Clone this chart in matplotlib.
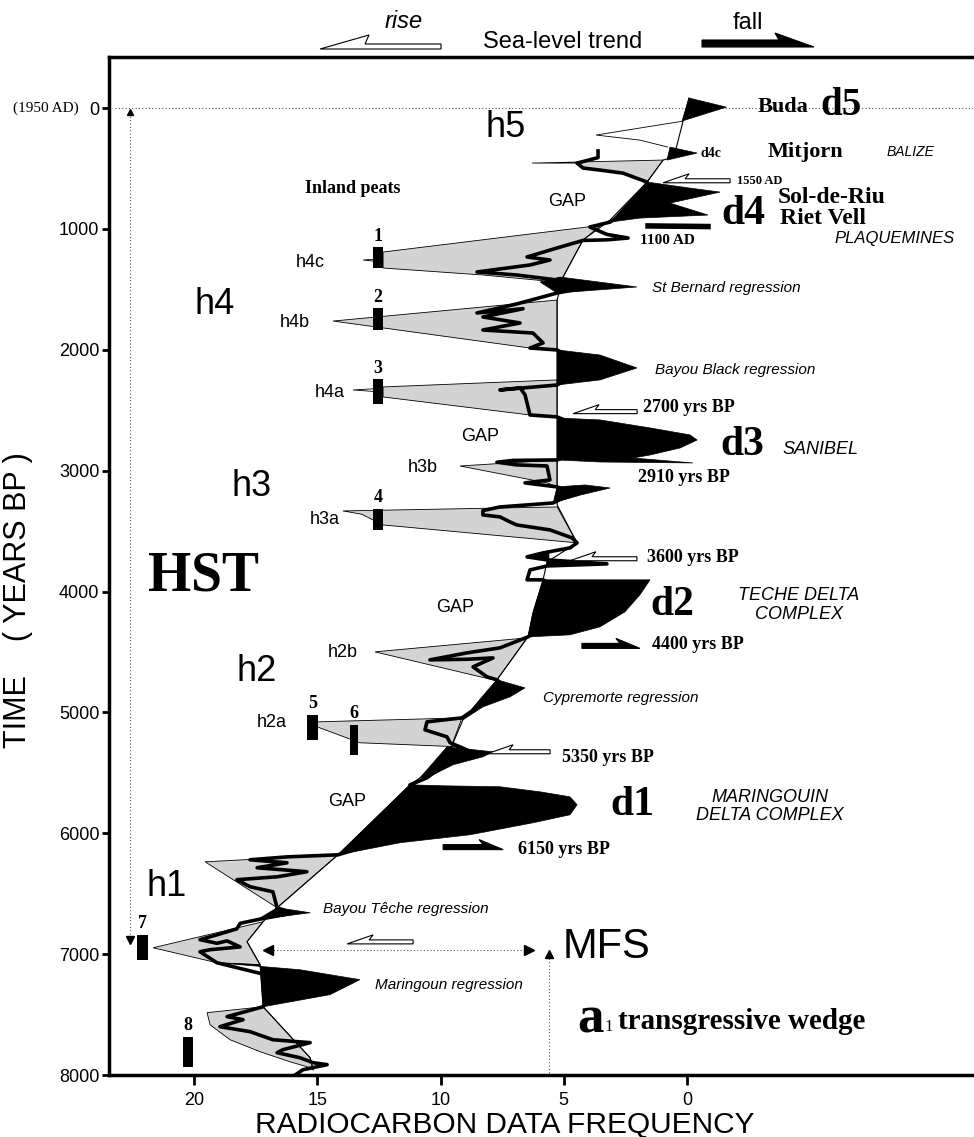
import matplotlib
matplotlib.use("Agg")
import matplotlib.pyplot as plt
import matplotlib.transforms as mtransforms
from matplotlib.patches import Polygon

plt.rcParams["font.family"] = "Liberation Sans"

# ---- data: radiocarbon frequency (x) vs age in yrs BP (y) ----
trend_f = [-0.08, 0.16, 0.53, 0.97, 1.62, 3.12, 4.22, 5.03, 5.27, 5.27, 4.46, 5.68, 5.84, 6.25, 6.45,
           7.71, 9.09, 9.61, 10.83, 11.24, 14.16, 16.63, 17.2, 17.85, 17.32, 17.2, 15.29, 15.17]
trend_t = [-83, 108, 405, 430, 612, 926, 1092, 1398, 1588, 3283, 3597, 3755, 3903, 4176, 4375,
           4730, 5061, 5309, 5541, 5599, 6178, 6616, 6732, 6897, 7087, 7435, 7857, 7956]

curve_f = [3.61, 3.61, 4.46, 4.22, 3.53, 2.6, 1.62, 2.0, 3.12, 3.94, 3.25, 2.39, 3.25, 4.22, 5.15,
           6.49, 5.56, 6.37, 8.52, 6.9, 5.27, 4.0, 5.27, 6.9, 8.52, 6.65, 8.28, 6.77, 8.28, 6.25,
           5.84, 6.37, 5.27, 4.0, 5.27, 7.59, 6.77, 6.57, 6.49, 6.37, 5.27, 3.0, 5.27, 7.06, 7.71,
           6.9, 5.68, 5.56, 6.57, 5.27, 4.6, 5.43, 6.49, 7.59, 8.28, 8.28, 7.59, 7.18, 6.9, 5.56,
           4.66, 4.46, 4.75, 5.84, 6.49, 5.68, 3.25, 5.68, 6.37, 6.49, 5.84, 4.0, 6.45, 7.59, 8.92,
           10.43, 8.92, 7.87, 8.68, 8.4, 8.11, 7.71, 7.3, 8.45, 9.13, 10.55, 10.63, 9.74, 9.61, 9.21,
           8.6, 9.9, 10.55, 11.24, 8.0, 14.16, 16.23, 17.73, 16.23, 17.44, 15.42, 16.63, 18.26, 17.73,
           16.8, 16.63, 16.0, 17.44, 18.13, 18.26, 19.07, 19.76, 19.07, 18.66, 18.13, 19.35, 19.76,
           19.07, 16.5, 17.2, 18.66, 18.01, 18.95, 17.73, 16.8, 15.29, 16.39, 16.63, 15.7, 15.17,
           14.6, 15.58, 15.9]
curve_t = [355, 410, 455, 496, 513, 538, 612, 800, 943, 984, 1045, 1075, 1090, 1095, 1150,
           1232, 1257, 1298, 1356, 1381, 1422, 1480, 1530, 1620, 1695, 1660, 1728, 1778, 1836, 1861,
           1943, 1985, 2001, 2150, 2291, 2332, 2315, 2373, 2440, 2539, 2555, 2750, 2911, 2915, 2930,
           2952, 2961, 3076, 3101, 3134, 3180, 3267, 3283, 3300, 3330, 3366, 3382, 3424, 3449, 3490,
           3556, 3597, 3639, 3680, 3713, 3738, 3771, 3788, 3821, 3903, 3903, 4100, 4375, 4466, 4507,
           4565, 4560, 4549, 4623, 4664, 4706, 4730, 4800, 4950, 5045, 5078, 5144, 5202, 5251, 5285,
           5340, 5440, 5541, 5599, 5800, 6178, 6195, 6219, 6244, 6285, 6318, 6360, 6384, 6442,
           6484, 6616, 6660, 6715, 6745, 6790, 6840, 6880, 6910, 6890, 6940, 6963, 6980,
           7071, 7200, 7435, 7517, 7542, 7600, 7641, 7708, 7732, 7790, 7815, 7857, 7898,
           7914, 7956, 8000]

# inland peat wedges (grey)
peat_1550 = [(6.29, 455), (0.97, 430), (1.62, 612), (2.6, 538), (3.53, 513), (4.22, 496), (4.46, 455)]
peat_h4c = [(12.33, 1191), (3.5, 970), (4.22, 1092), (5.03, 1398), (5.27, 1439), (8.28, 1381), (12.33, 1323)]
peat_h4b = [(14.36, 1762), (5.27, 1588), (5.27, 2001), (6.37, 1985)]
peat_h4a = [(12.33, 2307), (5.27, 2249), (5.27, 2555), (6.37, 2539), (12.33, 2390)]
peat_h3b = [(9.21, 2961), (5.27, 2911), (5.27, 3134), (5.68, 3101)]
peat_h3a = [(13.96, 3333), (5.27, 3300), (4.46, 3597), (12.33, 3449), (13.2, 3360)]
peat_h2b = [(12.66, 4499), (6.49, 4383), (7.71, 4730), (7.87, 4730)]
peat_h2a = [(15.01, 5078), (9.13, 5045), (9.61, 5309), (9.21, 5285), (13.27, 5251), (15.01, 5119)]
peat_h1 = [(19.55, 6236), (14.16, 6178), (16.63, 6616)]
peat_7 = [(21.66, 6947), (17.2, 6732), (17.85, 6897), (17.32, 7087), (19.07, 7071)]
peat_8 = [(19.47, 7484), (17.2, 7435), (15.29, 7857), (15.17, 7956), (15.42, 7931), (16.11, 7890),
          (17.32, 7807), (18.54, 7708), (19.35, 7584)]

# open outlines
open_h5 = [(0.16, 108), (3.69, 223), (1.91, 265), (0.77, 323)]
open_tri1 = [(12.33, 1245), (13.14, 1257), (12.33, 1275)]
open_tri3 = [(12.33, 2318), (13.55, 2332), (12.33, 2350)]

# delta lobes / regressions (black)
delta_d5 = [(-0.08, -83), (-1.6, -8), (0.2, 107)]
delta_d4c = [(0.69, 323), (-0.41, 372), (0.81, 430)]
delta_d4 = [(1.62, 612), (-0.12, 662), (-1.34, 695), (0.69, 786), (-0.85, 885), (1.91, 910), (3.12, 943)]
delta_stb = [(5.96, 1439), (5.15, 1398), (2.03, 1480), (5.27, 1530)]
delta_bb = [(5.27, 2001), (3.53, 2043), (2.03, 2150), (3.53, 2249), (5.27, 2291)]
delta_d3 = [(5.27, 2564), (3.53, 2580), (1.5, 2646), (-0.12, 2704), (-0.41, 2746), (0.28, 2812),
            (1.5, 2870), (2.19, 2895), (-0.24, 2936), (3.53, 2928), (5.27, 2911)]
delta_3200 = [(5.27, 3134), (4.14, 3118), (3.12, 3143), (4.3, 3200), (5.43, 3267)]
delta_3680 = [(5.6, 3680), (6.49, 3713), (5.6, 3740)]
delta_3770 = [(5.68, 3738), (3.25, 3771), (5.68, 3788)]
delta_d2 = [(5.84, 3903), (1.5, 3903), (1.91, 4027), (2.52, 4168), (3.53, 4292), (4.75, 4358),
            (6.45, 4375), (6.25, 4176)]
delta_cyp = [(7.71, 4730), (6.57, 4797), (7.18, 4871), (8.28, 4954), (9.09, 5061)]
delta_5400 = [(9.74, 5285), (7.87, 5326), (8.28, 5367), (9.49, 5433), (10.55, 5541), (10.83, 5541)]
delta_d1 = [(11.24, 5599), (9.9, 5607), (7.59, 5615), (5.96, 5657), (4.75, 5698), (4.46, 5764),
            (4.75, 5847), (6.25, 5913), (8.8, 6012), (11.64, 6078), (14.16, 6178)]
delta_teche = [(16.63, 6616), (15.29, 6657), (17.44, 6715)]
delta_mar = [(19.07, 7071), (15.7, 7129), (13.27, 7211), (14.48, 7335), (17.2, 7435), (17.32, 7087)]

# dated samples (black bars) 1-8
bar_names = ["1", "2", "3", "4", "5", "6", "7", "8"]
bar_f = [12.53, 12.53, 12.53, 12.53, 15.2, 13.5, 22.1, 20.24]
bar_top = [1150, 1654, 2241, 3316, 5020, 5103, 6839, 7683]
bar_end = [1323, 1836, 2448, 3490, 5227, 5351, 7046, 7931]
bar_w = [0.42, 0.42, 0.42, 0.42, 0.42, 0.34, 0.45, 0.4]

# ---- figure ----
fig = plt.figure(figsize=(9.74, 11.37), dpi=100)
ax = fig.add_axes([0.1119, 0.0545, 0.887, 0.8953])
ax.set_xlim(23.45, -11.6)
ax.set_ylim(8000, -422)

SERIF = "Liberation Serif"


def wedge(pts):
    ax.add_patch(Polygon(pts, closed=True, fc="#d3d3d3", ec="black", lw=0.6, zorder=2))


def lobe(pts):
    ax.add_patch(Polygon(pts, closed=True, fc="black", ec="black", lw=0.5, zorder=5))


def outline(pts):
    ax.add_patch(Polygon(pts, closed=False, fill=False, ec="black", lw=0.6, zorder=2))


def harpoon(x, y, length, left, color, th=4, hl=22, bh=10, trans=None):
    # one-barbed arrow, sizes in pixels, tip at (x, y)
    s = 1 if left else -1
    verts = [(0, 0), (s * length, 0), (s * length, th), (s * hl, th), (s * (hl + 4), bh)]
    tr = mtransforms.ScaledTranslation(x, y, trans if trans is not None else ax.transData)
    ax.add_patch(Polygon(verts, closed=True, fc=color, ec="black", lw=0.8,
                         transform=tr, clip_on=False, zorder=7))


for p in [peat_1550, peat_h4c, peat_h4b, peat_h4a, peat_h3b, peat_h3a, peat_h2b, peat_h2a,
          peat_h1, peat_7, peat_8]:
    wedge(p)
for p in [open_h5, open_tri1, open_tri3]:
    outline(p)

ax.plot(trend_f, trend_t, color="black", lw=0.8, zorder=3)
ax.plot(curve_f, curve_t, color="black", lw=2.6, zorder=4, solid_joinstyle="round")

for p in [delta_d5, delta_d4c, delta_d4, delta_stb, delta_bb, delta_d3, delta_3200, delta_3680,
          delta_3770, delta_d2, delta_cyp, delta_5400, delta_d1, delta_teche, delta_mar]:
    lobe(p)
ax.plot([1.58, -0.85], [975, 980], color="black", lw=4, zorder=5)

heights = [e - t for t, e in zip(bar_top, bar_end)]
ax.bar(bar_f, heights, bottom=bar_top, width=bar_w, color="black", zorder=6)
for name, f, t in zip(bar_names, bar_f, bar_top):
    ax.text(f, t - 20, name, family=SERIF, weight="bold", fontsize=13, ha="center", va="bottom")

# dotted guides
dot = dict(color="#555555", lw=0.8, ls=(0, (1, 2)), zorder=1)
ax.plot([23.2, -11.6], [0, 0], **dot)
ax.plot([22.6, 22.6], [40, 6860], **dot)
ax.plot(22.6, 30, marker="^", ms=5, color="black")
ax.plot(22.6, 6885, marker="v", ms=6, color="black")
ax.plot([16.9, 6.5], [6963, 6963], **dot)
ax.plot(17.0, 6963, marker="<", ms=7, color="black")
ax.plot(6.4, 6963, marker=">", ms=7, color="black")
ax.plot([5.6, 5.6], [7010, 8000], **dot)
ax.plot(5.6, 6995, marker="^", ms=6, color="black")

# arrows inside plot
harpoon(0.97, 618, 67, True, "white", th=4, hl=22, bh=9)
harpoon(4.62, 2528, 64, True, "white", th=4, hl=22, bh=9)
harpoon(4.75, 3745, 67, True, "white", th=4, hl=22, bh=9)
harpoon(8.11, 5342, 63, True, "white", th=4, hl=22, bh=9)
harpoon(13.79, 6915, 66, True, "white", th=4, hl=22, bh=9)
harpoon(1.91, 4470, 58, False, "black", th=5, hl=20, bh=10)
harpoon(7.46, 6135, 60, False, "black", th=5, hl=20, bh=10)

# arrows and title above the plot
harpoon(320 / 974, 1 - 49 / 1137, 121, True, "white", th=5, hl=45, bh=14, trans=fig.transFigure)
harpoon(814 / 974, 1 - 47 / 1137, 112, False, "black", th=7, hl=35, bh=14, trans=fig.transFigure)
fig.text(404 / 974, 1 - 22 / 1137, "rise", fontsize=17, style="italic", ha="center", va="center")
fig.text(563 / 974, 1 - 42 / 1137, "Sea-level trend", fontsize=17, ha="center", va="center")
fig.text(748 / 974, 1 - 23 / 1137, "fall", fontsize=17, ha="center", va="center")


def lab(x, y, s, size, serif=False, bold=False, italic=False, ha="left", **kw):
    ax.text(x, y, s, fontsize=size, family=SERIF if serif else "Liberation Sans",
            weight="bold" if bold else "normal", style="italic" if italic else "normal",
            ha=ha, va="center", zorder=8, **kw)


# big sequence labels
for s, x, y in [("h5", 7.34, 157), ("h4", 19.15, 1629), ("h3", 17.65, 3134),
                ("h2", 17.44, 4664), ("h1", 21.1, 6442)]:
    lab(x, y, s, 26, ha="center")
lab(19.63, 3879, "HST", 40, serif=True, bold=True, ha="center")
lab(13.55, 662, "Inland peats", 13, serif=True, bold=True, ha="center")
for x, y in [(4.87, 777), (8.4, 2721), (9.41, 4135), (13.79, 5739)]:
    lab(x, y, "GAP", 13, ha="center")
for s, x, y in [("h4c", 15.29, 1274), ("h4b", 15.9, 1770), ("h4a", 14.48, 2357), ("h3b", 10.71, 2977),
                ("h3a", 14.69, 3407), ("h2b", 13.96, 4507), ("h2a", 16.84, 5086)]:
    lab(x, y, s, 13, ha="center")

# right-hand labels
lab(-2.88, -8, "Buda", 16, serif=True, bold=True)
lab(-5.4, -20, "d5", 28, serif=True, bold=True)
lab(-0.53, 372, "d4c", 10, serif=True, bold=True)
lab(-3.29, 364, "Mitjorn", 16, serif=True, bold=True)
lab(-8.11, 364, "BALIZE", 10, italic=True)
lab(-2.03, 600, "1550 AD", 9, serif=True, bold=True)
lab(-3.69, 736, "Sol-de-Riu", 17, serif=True, bold=True)
lab(-1.4, 880, "d4", 30, serif=True, bold=True)
lab(-3.77, 910, "Riet Vell", 17, serif=True, bold=True)
lab(-6.0, 1075, "PLAQUEMINES", 12, italic=True)
lab(1.91, 1092, "1100 AD", 11, serif=True, bold=True)
lab(1.42, 1489, "St Bernard regression", 11, italic=True)
lab(1.3, 2167, "Bayou Black regression", 11, italic=True)
lab(1.78, 2481, "2700 yrs BP", 13, serif=True, bold=True)
lab(-1.34, 2790, "d3", 30, serif=True, bold=True)
lab(-3.89, 2828, "SANIBEL", 13, italic=True)
lab(1.99, 3060, "2910 yrs BP", 13, serif=True, bold=True)
lab(1.62, 3722, "3600 yrs BP", 13, serif=True, bold=True)
lab(1.5, 4110, "d2", 30, serif=True, bold=True)
lab(-4.54, 4110, "TECHE DELTA\nCOMPLEX", 13, italic=True, ha="center", linespacing=1.1)
lab(1.42, 4441, "4400 yrs BP", 13, serif=True, bold=True)
lab(5.84, 4879, "Cypremorte regression", 11, italic=True)
lab(5.07, 5376, "5350 yrs BP", 13, serif=True, bold=True)
lab(3.12, 5770, "d1", 30, serif=True, bold=True)
lab(-3.37, 5781, "MARINGOUIN\nDELTA COMPLEX", 13, italic=True, ha="center", linespacing=1.1)
lab(6.86, 6136, "6150 yrs BP", 13, serif=True, bold=True)
lab(14.77, 6624, "Bayou Têche regression", 11, italic=True)
lab(5.03, 6939, "MFS", 30)
lab(12.66, 7253, "Maringoun regression", 11, italic=True)
lab(3.4, 7540, "a", 38, serif=True, bold=True, ha="right")
lab(3.35, 7600, "1", 12, serif=True)
lab(2.78, 7559, "transgressive wedge", 21, serif=True, bold=True)

# axes styling
ax.set_xticks([20, 15, 10, 5, 0])
ax.set_yticks(range(0, 8001, 1000))
ax.tick_params(axis="x", direction="out", length=7, width=2, labelsize=13, pad=5)
ax.tick_params(axis="y", direction="out", length=5, width=2, labelsize=13, pad=2)
for side in ["left", "top", "bottom"]:
    ax.spines[side].set_linewidth(2.5)
ax.spines["right"].set_visible(False)

fig.text(79 / 974, 1 - 108 / 1137, "(1950 AD)", family=SERIF, fontsize=11, ha="right", va="center")
fig.text(505 / 974, 1 - 1125 / 1137, "RADIOCARBON DATA FREQUENCY", fontsize=21.5, ha="center", va="center")
fig.text(18 / 974, 1 - 600 / 1137, "TIME    ( YEARS BP )", fontsize=22, rotation=90, ha="center", va="center")

fig.savefig("out.png", dpi=100)
